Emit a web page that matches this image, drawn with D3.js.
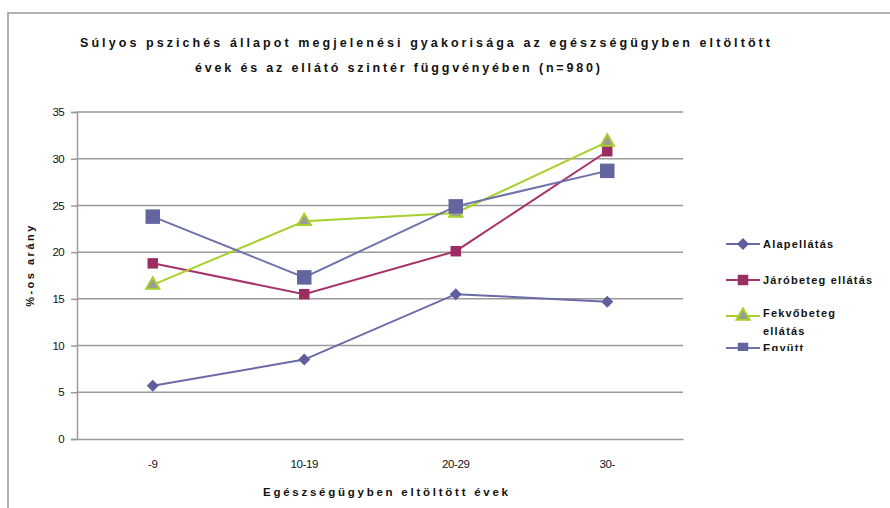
<!DOCTYPE html>
<html><head><meta charset="utf-8">
<script src="https://cdn.jsdelivr.net/npm/d3@7"></script>
<style>body{margin:0;background:#fff}svg{display:block}text{font-family:"Liberation Sans",Arial,sans-serif}</style>
</head><body>
<script>
const categories = ["-9", "10-19", "20-29", "30-"];
const seriesNames = ["Alapellátás", "Járóbeteg ellátás", "Fekvőbeteg ellátás", "Együtt"];
const alapellatas = [5.7, 8.5, 15.5, 14.7];
const jarobeteg = [18.8, 15.5, 20.1, 30.8];
const fekvobeteg = [16.5, 23.3, 24.2, 31.8];
const egyutt = [23.8, 17.3, 24.9, 28.7];
const yTicks = [0, 5, 10, 15, 20, 25, 30, 35];
const titleLines = ["Súlyos pszichés állapot megjelenési gyakorisága az egészségügyben eltöltött", "évek és az ellátó szintér függvényében (n=980)"];
const xTitle = "Egészségügyben eltöltött évek";
const yTitle = "%-os arány";

const W = 890, H = 508;
const M = {left: 77, right: 683, top: 112, bottom: 439};
const svg = d3.select("body").append("svg").attr("width", W).attr("height", H);

// outer frame
svg.append("rect").attr("x", 8).attr("y", 13).attr("width", 900).attr("height", 520)
  .attr("fill", "none").attr("stroke", "#9a9a9a").attr("stroke-width", 1.5);

// title
const tl = [{x: 80, y: 47, len: 690}, {x: 195, y: 72, len: 405}];
titleLines.forEach((t, i) => {
  svg.append("text").attr("x", tl[i].x).attr("y", tl[i].y).text(t)
    .attr("font-size", 12.5).attr("font-weight", "bold").attr("fill", "#111")
    .attr("textLength", tl[i].len).attr("lengthAdjust", "spacing");
});

const x = d3.scaleBand().domain(categories).range([M.left, M.right]);
const y = d3.scaleLinear().domain([0, 35]).range([M.bottom, M.top]);

// gridlines
svg.append("g").selectAll("line").data(yTicks.filter(d => d > 0)).join("line")
  .attr("x1", M.left).attr("x2", M.right).attr("y1", d => y(d)).attr("y2", d => y(d))
  .attr("stroke", "#9a9a9a").attr("stroke-width", 1.5);

// y axis
const yAxis = svg.append("g").attr("transform", `translate(${M.left},0)`)
  .call(d3.axisLeft(y).tickValues(yTicks).tickSize(6).tickPadding(7));
yAxis.select(".domain").attr("stroke", "#9a9a9a").attr("stroke-width", 1.5);
yAxis.selectAll(".tick line").attr("stroke", "#9a9a9a").attr("stroke-width", 1.5);
yAxis.selectAll(".tick text").attr("font-size", 11.5).attr("fill", "#111")
  .attr("font-family", "Liberation Sans, Arial, sans-serif").attr("letter-spacing", -0.6);

// x axis
const xAxis = svg.append("g").attr("transform", `translate(0,${M.bottom})`)
  .call(d3.axisBottom(x).tickSize(0).tickPadding(21));
xAxis.select(".domain").attr("stroke", "#9a9a9a").attr("stroke-width", 1.5);
xAxis.selectAll(".tick text").attr("font-size", 11.5).attr("fill", "#111")
  .attr("font-family", "Liberation Sans, Arial, sans-serif").attr("letter-spacing", -0.4);

// axis titles
svg.append("text").attr("x", 263).attr("y", 496).text(xTitle)
  .attr("font-size", 11.5).attr("fill", "#111").attr("font-weight", "bold")
  .attr("textLength", 245).attr("lengthAdjust", "spacing");
svg.append("text").attr("transform", "translate(34,265) rotate(-90)").attr("text-anchor", "middle")
  .text(yTitle).attr("font-size", 11).attr("fill", "#111").attr("font-weight", "bold")
  .attr("letter-spacing", 2.5);

const series = [
  {name: seriesNames[0], values: alapellatas, color: "#6a6aa8", marker: "diamond", size: 72, fill: "#5f5f9e", stroke: "none"},
  {name: seriesNames[1], values: jarobeteg, color: "#a8336a", marker: "square", size: 110, fill: "#9b2d60", stroke: "none"},
  {name: seriesNames[2], values: fekvobeteg, color: "#a6d02a", marker: "triangle", size: 75, fill: "#9a9a9a", stroke: "#a6d02a"},
  {name: seriesNames[3], values: egyutt, color: "#7072ad", marker: "square", size: 210, fill: "#63659e", stroke: "none"}
];
const symType = {diamond: d3.symbolSquare, square: d3.symbolSquare, triangle: d3.symbolTriangle};
const rot = m => m === "diamond" ? " rotate(45)" : "";
const cx = c => x(c) + x.bandwidth() / 2;

const line = d3.line().x((d, i) => cx(categories[i])).y(d => y(d));
series.forEach(s => {
  svg.append("path").datum(s.values).attr("d", line).attr("fill", "none")
    .attr("stroke", s.color).attr("stroke-width", 2);
});
series.forEach(s => {
  svg.append("g").selectAll("path").data(s.values).join("path")
    .attr("transform", (d, i) => `translate(${cx(categories[i])},${y(d)})` + rot(s.marker))
    .attr("d", d3.symbol().type(symType[s.marker]).size(s.size))
    .attr("fill", s.fill).attr("stroke", s.stroke).attr("stroke-width", 2);
});

// legend
svg.append("clipPath").attr("id", "lc").append("rect")
  .attr("x", 700).attr("y", 220).attr("width", 190).attr("height", 131);
const lg = svg.append("g").attr("clip-path", "url(#lc)");
const rows = [
  {lineY: 244, labels: [seriesNames[0]]},
  {lineY: 280, labels: [seriesNames[1]]},
  {lineY: 316, labels: ["Fekvőbeteg", "ellátás"], textY: 317},
  {lineY: 348, labels: [seriesNames[3]]}
];
rows.forEach((r, i) => {
  const s = series[i];
  lg.append("line").attr("x1", 726).attr("x2", 760).attr("y1", r.lineY).attr("y2", r.lineY)
    .attr("stroke", s.color).attr("stroke-width", 2);
  lg.append("path").attr("transform", `translate(743,${r.lineY})` + rot(s.marker))
    .attr("d", d3.symbol().type(symType[s.marker]).size(i === 3 ? 110 : s.size))
    .attr("fill", s.fill).attr("stroke", s.stroke).attr("stroke-width", 2);
  const ty = r.textY || (r.lineY + 4);
  r.labels.forEach((t, j) => {
    lg.append("text").attr("x", 763).attr("y", ty + j * 18).text(t)
      .attr("font-size", 11).attr("fill", "#111").attr("font-weight", "bold").attr("letter-spacing", 1.2);
  });
});
</script>
</body></html>
